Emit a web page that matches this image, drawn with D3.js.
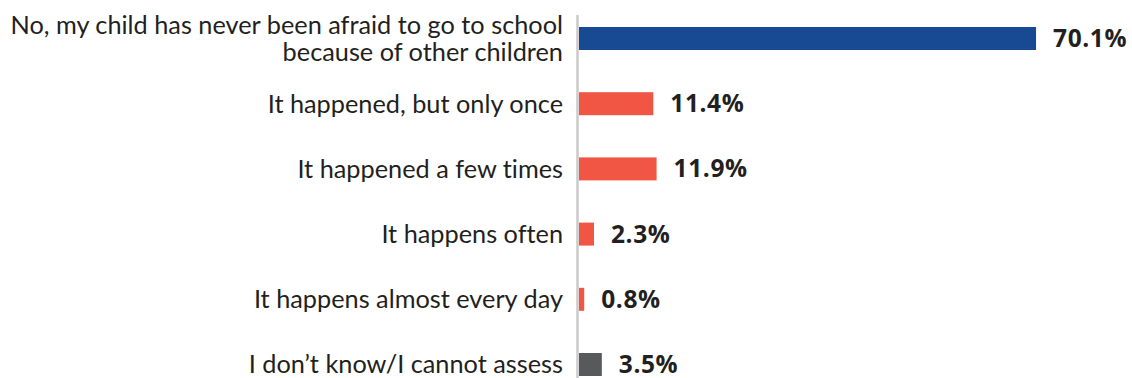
<!DOCTYPE html>
<html>
<head>
<meta charset="utf-8">
<script src="https://cdn.jsdelivr.net/npm/d3@7"></script>
<style>
  html, body { margin: 0; padding: 0; background: #fff; }
  svg { display: block; }
  text { font-variant-ligatures: none; }
</style>
</head>
<body>
<svg id="chart" width="1132" height="378"></svg>
<script>
// Survey answers, shares in percent
const categories = [
  ["No, my child has never been afraid to go to school", "because of other children"],
  ["It happened, but only once"],
  ["It happened a few times"],
  ["It happens often"],
  ["It happens almost every day"],
  ["I don\u2019t know/I cannot assess"]
];
const values = [70.1, 11.4, 11.9, 2.3, 0.8, 3.5];
const groups = ["no", "yes", "yes", "yes", "yes", "unknown"];

const colors = { no: "#174a92", yes: "#f15645", unknown: "#58595b" };

const svg = d3.select("#chart");
const x0 = 579;
const pxPerPct = 6.52;

const x = d3.scaleLinear().domain([0, 100]).range([x0, x0 + 100 * pxPerPct]);
const y = d3.scalePoint().domain(d3.range(values.length)).range([38.5, 364.5]);
const barH = 23;

const data = values.map((v, i) => ({ v, i, label: categories[i], g: groups[i] }));

// Bars
svg.append("g").selectAll("rect").data(data).join("rect")
  .attr("x", x(0))
  .attr("y", d => y(d.i) - barH / 2)
  .attr("width", d => x(d.v) - x(0))
  .attr("height", barH)
  .attr("fill", d => colors[d.g]);

// Vertical baseline
svg.append("line")
  .attr("x1", 577.5).attr("x2", 577.5)
  .attr("y1", 15).attr("y2", 378)
  .attr("stroke", "#cbc9c9").attr("stroke-width", 2.5);

// Category labels, right aligned against the baseline
const fontCat = "Lato, 'Open Sans', sans-serif";
const lineH = 27;
const lab = svg.append("g").selectAll("text").data(data).join("text")
  .attr("x", 563)
  .attr("text-anchor", "end")
  .attr("font-family", fontCat)
  .attr("font-size", 25.3)
  .attr("fill", "#231f20");
lab.each(function (d) {
  const t = d3.select(this);
  const n = d.label.length;
  d.label.forEach((line, k) => {
    t.append("tspan")
      .attr("x", 563)
      .attr("y", y(d.i) + (k - (n - 1) / 2) * lineH)
      .attr("dy", "0.35em")
      .text(line);
  });
});

// Value labels
svg.append("g").selectAll("text").data(data).join("text")
  .attr("x", d => x(d.v) + 17)
  .attr("y", d => y(d.i))
  .attr("dy", "0.35em")
  .attr("font-family", "'Open Sans', sans-serif")
  .attr("font-weight", 700)
  .attr("font-size", 24.5)
  .attr("letter-spacing", 0.6)
  .attr("fill", "#231f20")
  .text(d => d.v.toFixed(1) + "%");
</script>
</body>
</html>
